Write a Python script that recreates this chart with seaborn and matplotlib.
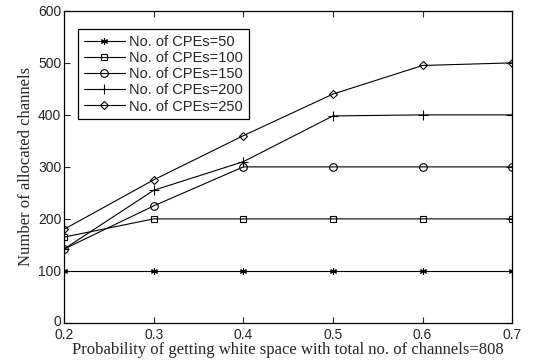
import matplotlib
matplotlib.use("Agg")
import matplotlib.pyplot as plt
import matplotlib.transforms as mtrans
import seaborn as sns
import pandas as pd

# Datos
prob = [0.2, 0.3, 0.4, 0.5, 0.6, 0.7]
cpe50 = [100, 100, 100, 100, 100, 100]
cpe100 = [165, 200, 200, 200, 200, 200]
cpe150 = [142, 225, 300, 300, 300, 300]
cpe200 = [142, 255, 310, 398, 400, 400]
cpe250 = [180, 275, 360, 440, 495, 500]
etiquetas = ['No. of CPEs=50', 'No. of CPEs=100', 'No. of CPEs=150',
             'No. of CPEs=200', 'No. of CPEs=250']

sns.set_style("ticks")
plt.rcParams['font.family'] = ['Liberation Sans', 'DejaVu Sans']

series = [cpe50, cpe100, cpe150, cpe200, cpe250]
marcadores = [(6, 2, 0), 's', 'o', '+', 'D']
tamanos = [5, 4, 5.5, 6.5, 4.5]

filas = []
for lab, vals in zip(etiquetas, series):
    for x, y in zip(prob, vals):
        filas.append({'p': x, 'n': y, 'serie': lab})
df = pd.DataFrame(filas)

fig = plt.figure(figsize=(5.52, 3.62), dpi=100)
ax = fig.add_axes([0.116, 0.108, 0.812, 0.862])

for lab, m, ms in zip(etiquetas, marcadores, tamanos):
    sub = df[df['serie'] == lab]
    sns.lineplot(data=sub, x='p', y='n', ax=ax, color='black', linewidth=0.8,
                 marker=m, markersize=ms, markerfacecolor='none',
                 markeredgecolor='black', markeredgewidth=0.8, label=lab)

ax.set_xlim(0.2, 0.7)
ax.set_ylim(0, 600)
ax.set_xticks(prob)
ax.set_xticklabels(['0.2', '0.3', '0.4', '0.5', '0.6', '0.7'])
ax.set_yticks([0, 100, 200, 300, 400, 500, 600])
ax.tick_params(direction='in', top=True, right=True, labelsize=10, length=4,
               width=0.8)
ax.tick_params(axis='x', pad=4)
ax.tick_params(axis='y', pad=2)
for s in ax.spines.values():
    s.set_linewidth(0.9)
    s.set_color('black')

# subir un poco el "0" para que no toque al "0.2"
fig.canvas.draw()
cero = ax.get_yticklabels()[0]
cero.set_transform(cero.get_transform() +
                   mtrans.ScaledTranslation(0, 2 / 72, fig.dpi_scale_trans))

ax.set_xlabel('Probability of getting white space with total no. of channels=808',
              family=['Liberation Serif'], fontsize=12, labelpad=0)
ax.set_ylabel('Number of allocated channels', family=['Liberation Serif'],
              fontsize=12, labelpad=3)

leg = ax.legend(loc='upper left', bbox_to_anchor=(0.031, 0.942), fontsize=10.5,
                frameon=True, fancybox=False, framealpha=1, edgecolor='black',
                borderpad=0.4, labelspacing=0.15, handlelength=2.8,
                handletextpad=0.3, borderaxespad=0)
leg.get_frame().set_linewidth(0.9)

fig.savefig('out.png', dpi=100)
